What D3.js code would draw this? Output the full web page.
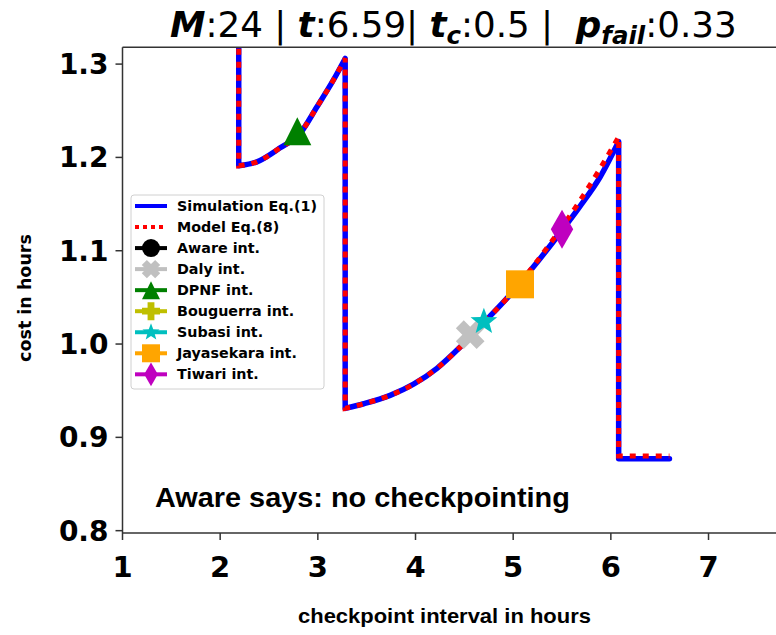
<!DOCTYPE html>
<html>
<head>
<meta charset="utf-8">
<script src="https://cdn.jsdelivr.net/npm/d3@7"></script>
<style>
  body { margin: 0; background: #fff; }
  text { font-family: "DejaVu Sans", sans-serif; }
</style>
</head>
<body>
<div id="chart"></div>
<script>
// Simulation Eq.(1) curve (repeated x = vertical jump)
const simX = [2.19, 2.19, 2.37, 2.61, 2.82, 2.99, 3.16, 3.28, 3.28, 3.47, 3.74, 3.98, 4.22, 4.46, 4.69, 4.97, 5.21, 5.45, 5.68, 5.89, 6.08, 6.08, 6.6]
const simY = [1.40, 1.191, 1.195, 1.210, 1.226, 1.254, 1.283, 1.306, 0.931, 0.936, 0.945, 0.957, 0.974, 0.997, 1.022, 1.053, 1.083, 1.115, 1.147, 1.179, 1.217, 0.877, 0.877]
// Model Eq.(8) curve
const modelX = [2.19, 2.19, 2.37, 2.61, 2.82, 2.99, 3.16, 3.28, 3.28, 3.47, 3.74, 3.98, 4.22, 4.46, 4.69, 4.97, 5.21, 5.45, 5.68, 5.89, 6.08, 6.08, 6.6]
const modelY = [1.40, 1.191, 1.195, 1.210, 1.226, 1.254, 1.283, 1.306, 0.931, 0.936, 0.945, 0.957, 0.974, 0.997, 1.022, 1.053, 1.084, 1.118, 1.153, 1.188, 1.222, 0.880, 0.880]

// interval markers (null = not shown)
const methods = ['Aware int.', 'Daly int.', 'DPNF int.', 'Bouguerra int.', 'Subasi int.', 'Jayasekara int.', 'Tiwari int.']
const methodX = [null, 4.56, 2.79, null, 4.70, 5.07, 5.50]
const methodY = [null, 1.010, 1.228, null, 1.024, 1.064, 1.123]
const methodColor = ['#000000', '#c0c0c0', '#008000', '#bfbf00', '#00bfbf', '#ffa500', '#bf00bf']
const methodShape = ['circle', 'X', 'triangle', 'plus', 'star', 'square', 'diamond']

const xTicks = [1, 2, 3, 4, 5, 6, 7]
const yTicks = [0.8, 0.9, 1.0, 1.1, 1.2, 1.3]

const W = 776, H = 635
const plotLeft = 122.5, plotTop = 47.3, plotBottom = 533

const svg = d3.select('#chart').append('svg')
    .attr('width', W)
    .attr('height', H)

const x = d3.scaleLinear().domain([1, 7.7]).range([plotLeft, plotLeft + 6.7 * 97.67])
const y = d3.scaleLinear().domain([0.7975, 1.318]).range([plotBottom, plotTop])

// stretch a text node horizontally so it spans the given width
function fitWidth(sel, x0, y0, width) {
    const w = sel.node().getBBox().width
    sel.attr('transform', `translate(${x0},${y0}) scale(${width / w},1)`)
}

function markerPath(shape, s) {
    const h = s / 2
    if (shape === 'circle') return d3.symbol(d3.symbolCircle, Math.PI * h * h)()
    if (shape === 'square') return `M${-h},${-h}H${h}V${h}H${-h}Z`
    if (shape === 'triangle') return `M0,${-h}L${h},${h}L${-h},${h}Z`
    if (shape === 'diamond') return `M0,${-0.7 * s}L${0.4 * s},0L0,${0.7 * s}L${-0.4 * s},0Z`
    if (shape === 'star') {
        const pts = d3.range(10).map(i => {
            const r = i % 2 ? h * 0.42 : h
            const a = -Math.PI / 2 + i * Math.PI / 5
            return [r * Math.cos(a), r * Math.sin(a)]
        })
        return 'M' + pts.join('L') + 'Z'
    }
    // plus / X
    const a = 0.5 * s, w = 0.19 * s
    let pts = [[w, -a], [w, -w], [a, -w], [a, w], [w, w], [w, a], [-w, a], [-w, w], [-a, w], [-a, -w], [-w, -w], [-w, -a]]
    if (shape === 'X') {
        const c = Math.SQRT1_2
        pts = pts.map(p => [(p[0] - p[1]) * c * 1.05, (p[0] + p[1]) * c * 1.05])
    }
    return 'M' + pts.join('L') + 'Z'
}

// smooth pieces joined by straight vertical jumps
const smooth = d3.line()
    .x(d => x(d[0]))
    .y(d => y(d[1]))
    .curve(d3.curveMonotoneX)

function jumpPath(xs, ys) {
    const pts = d3.zip(xs, ys)
    const runs = [[pts[0]]]
    for (let i = 1; i < pts.length; i++) {
        if (pts[i][0] === pts[i - 1][0]) runs.push([pts[i]])
        else runs[runs.length - 1].push(pts[i])
    }
    return runs.map((r, k) => {
        const d = r.length > 1 ? smooth(r) : `M${x(r[0][0])},${y(r[0][1])}`
        return k ? 'L' + d.slice(1) : d
    }).join('')
}

// clip for the curves
svg.append('clipPath').attr('id', 'plot-clip')
    .append('rect')
    .attr('x', plotLeft).attr('y', plotTop)
    .attr('width', W - plotLeft).attr('height', plotBottom - plotTop)

const plot = svg.append('g').attr('clip-path', 'url(#plot-clip)')

plot.append('path')
    .attr('d', jumpPath(simX, simY))
    .style('fill', 'none')
    .style('stroke', '#0000ff')
    .style('stroke-width', 5.5)
    .style('stroke-linejoin', 'round')
    .style('stroke-linecap', 'round')

plot.append('path')
    .attr('d', jumpPath(modelX, modelY))
    .style('fill', 'none')
    .style('stroke', '#ff0000')
    .style('stroke-width', 5)
    .style('stroke-dasharray', '6,7')

// markers
methods.forEach((m, i) => {
    if (methodX[i] === null) return
    svg.append('path')
        .attr('d', markerPath(methodShape[i], 28))
        .attr('transform', `translate(${x(methodX[i])},${y(methodY[i])})`)
        .style('fill', methodColor[i])
})

// spines
svg.append('line')
    .attr('x1', plotLeft).attr('x2', plotLeft)
    .attr('y1', plotTop).attr('y2', plotBottom)
    .style('stroke', '#333').style('stroke-width', 1.5)
svg.append('line')
    .attr('x1', plotLeft).attr('x2', W)
    .attr('y1', plotBottom).attr('y2', plotBottom)
    .style('stroke', '#333').style('stroke-width', 1.5)
svg.append('line')
    .attr('x1', plotLeft).attr('x2', W)
    .attr('y1', plotTop).attr('y2', plotTop)
    .style('stroke', '#333').style('stroke-width', 1.5)

// x ticks
const xt = svg.selectAll('.x-tick')
    .data(xTicks)
    .enter()
    .append('g')
    .attr('class', 'x-tick')
    .attr('transform', d => `translate(${x(d)},${plotBottom})`)
xt.append('line').attr('y2', 7).style('stroke', '#333').style('stroke-width', 1.5)
xt.append('text')
    .attr('y', 44)
    .text(d => d)
    .style('text-anchor', 'middle')
    .style('font-size', '29px')
    .style('font-weight', 'bold')

// y ticks
const yt = svg.selectAll('.y-tick')
    .data(yTicks)
    .enter()
    .append('g')
    .attr('class', 'y-tick')
    .attr('transform', d => `translate(${plotLeft},${y(d)})`)
yt.append('line').attr('x2', -7).style('stroke', '#333').style('stroke-width', 1.5)
yt.append('text')
    .attr('x', -14)
    .attr('y', 10)
    .text(d => d3.format('.1f')(d))
    .style('text-anchor', 'end')
    .style('font-size', '28px')
    .style('font-weight', 'bold')

// axis labels
svg.append('text')
    .attr('transform', 'translate(31,298) rotate(-90)')
    .text('cost in hours')
    .style('text-anchor', 'middle')
    .style('font-size', '17.5px')
    .style('font-weight', 'bold')

const xl = svg.append('text')
    .text('checkpoint interval in hours')
    .style('font-family', '"Liberation Sans", Arial, sans-serif')
    .style('font-size', '21px')
    .style('font-weight', 'bold')
fitWidth(xl, 298, 623, 293)

const aw = svg.append('text')
    .text('Aware says: no checkpointing')
    .style('font-family', '"Liberation Sans", Arial, sans-serif')
    .style('font-size', '27px')
    .style('font-weight', 'bold')
fitWidth(aw, 155, 507, 415)

// title with math parts in bold italic
const title = svg.append('text').style('font-size', '35px').attr('xml:space', 'preserve')
const parts = [
    ['M', 'm'], [':24 | ', 'n'], ['t', 'm'], [':6.59| ', 'n'], ['t', 'm'], ['c', 's'],
    [':0.5 |  ', 'n'], ['p', 'm'], ['fail', 's'], [':0.33', 'n']
]
parts.forEach(([txt, kind], i) => {
    const ts = title.append('tspan').text(txt)
    if (kind !== 'n') ts.style('font-weight', 'bold').style('font-style', 'italic')
    if (kind === 's') ts.style('font-size', '24px').attr('dy', 7)
    if (kind !== 's' && i > 0 && parts[i - 1][1] === 's') ts.attr('dy', -7)
})
fitWidth(title, 170, 37, 567)

// legend
const legend = svg.append('g').attr('transform', 'translate(131,195)')
legend.append('rect')
    .attr('width', 193).attr('height', 194)
    .attr('rx', 3)
    .style('fill', '#fff')
    .style('stroke', '#d0d0d0')
    .style('stroke-width', 1)

const legendNames = ['Simulation Eq.(1)', 'Model Eq.(8)'].concat(methods)
const row = legend.selectAll('.legend-row')
    .data(legendNames)
    .enter()
    .append('g')
    .attr('class', 'legend-row')
    .attr('transform', (d, i) => `translate(0,${11 + i * 21.04})`)

row.append('line')
    .attr('x1', 4).attr('x2', 36)
    .style('stroke', (d, i) => i === 0 ? '#0000ff' : i === 1 ? '#ff0000' : methodColor[i - 2])
    .style('stroke-width', 4)
    .style('stroke-dasharray', (d, i) => i === 1 ? '4,4' : null)

row.filter((d, i) => i > 1)
    .append('path')
    .attr('transform', 'translate(20,0)')
    .attr('d', (d, i) => markerPath(methodShape[i], methodShape[i] === 'diamond' ? 17 : 18))
    .style('fill', (d, i) => methodColor[i])

row.append('text')
    .attr('x', 46)
    .attr('y', 5)
    .text(d => d)
    .style('font-size', '14.3px')
    .style('font-weight', 'bold')
</script>
</body>
</html>
